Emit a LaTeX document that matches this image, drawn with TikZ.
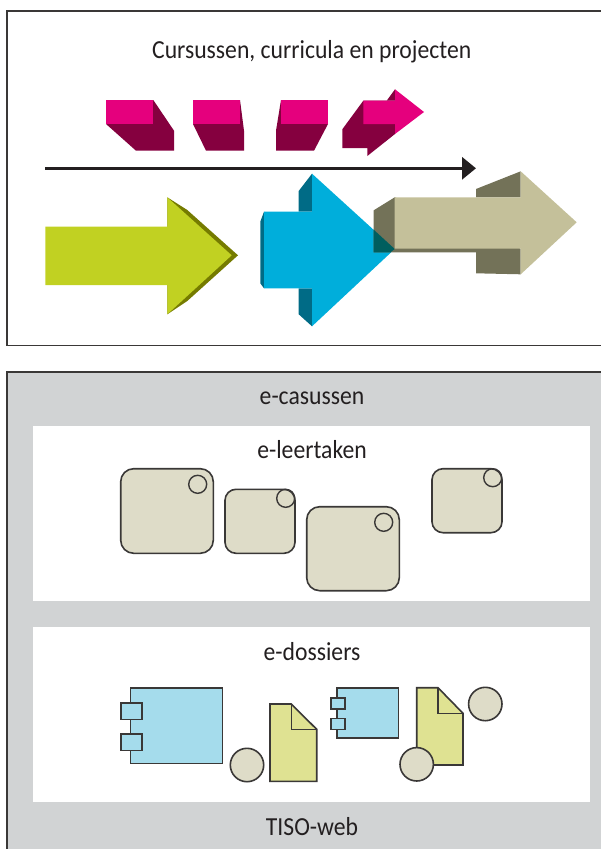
\documentclass[tikz,border=0pt]{standalone}
\usepackage{fontspec}
\setmainfont[FakeStretch=0.91]{Carlito}
\usetikzlibrary{arrows.meta}
\definecolor{pinkfront}{HTML}{E5007D}
\definecolor{pinkside}{HTML}{85003F}
\definecolor{limefront}{HTML}{C1D122}
\definecolor{limeside}{HTML}{757B00}
\definecolor{bluefront}{HTML}{00AEDB}
\definecolor{blueside}{HTML}{006B86}
\definecolor{khakifront}{HTML}{C4C09A}
\definecolor{khakiside}{HTML}{737258}
\definecolor{overlap}{HTML}{005E5E}
\definecolor{panelgray}{HTML}{D1D3D4}
\definecolor{stone}{HTML}{DEDCC8}
\definecolor{compblue}{HTML}{A5DCEC}
\definecolor{docyellow}{HTML}{DFE292}
\definecolor{inkline}{HTML}{3A3837}
\definecolor{inkblack}{HTML}{231F20}
\tikzset{
  label/.style={inner sep=0pt, anchor=base, text=inkblack, font=\fontsize{26}{26}\selectfont},
  tile/.style={draw=inkline, fill=stone, line width=1.6pt},
  comp/.style={draw=inkline, fill=compblue, line width=1.6pt},
  doc/.style={draw=inkline, fill=docyellow, line width=1.6pt, line join=miter},
  ball/.style={draw=inkline, fill=stone, line width=1.6pt}
}
\begin{document}
\begin{tikzpicture}[x=1pt, y=-1pt]
    \useasboundingbox (0,0) rectangle (601,849);

    % top panel
    \draw[inkline, line width=1.5pt] (601,11) -- (7,11) -- (7,345.5) -- (601,345.5);
    \node[label] (title) at (311.7,58) {Cursussen, curricula en projecten};

    % pink blocks
    \foreach \a/\b/\c/\d/\e/\f in {106/153.3/174/174/136/106, 193/240/244/244/206/193}
             {
               \fill[pinkside] (\b,100) -- (\c,130.7) -- (\d,150.7) -- (\e,150.7) -- (\f,124) -- cycle;
               \fill[pinkfront] (\a,100) rectangle (\b,124);
             }
    \fill[pinkside] (281,100) -- (276,130.7) -- (276,150.7) -- (314,150.7) -- (328,124) -- cycle;
    \fill[pinkfront] (281,100) rectangle (328,124);
    \fill[pinkside] (363.3,100.7) -- (342.3,129.3) -- (342.3,148) -- (367.3,148) -- (367.3,156) -- (395,134) -- (395,100.7) -- cycle;
    \fill[pinkside] (386.7,100.7) -- (395,89.3) -- (395,100.7) -- cycle;
    \fill[pinkfront] (363.3,100.7) -- (395,100.7) -- (395,89.3) -- (424,112) -- (395,134) -- (395,124) -- (363.3,124) -- cycle;

    % time line
    \coordinate (linestart) at (45,168.3);
    \coordinate (lineend) at (476,168.3);
    \draw[-{Triangle[length=14pt, width=22pt]}, inkblack, line width=3.2pt] (linestart) -- (lineend);

    % lime arrow
    \fill[limeside] (167.3,197.3) -- (187.3,210) -- (238,255.3) -- (187.3,301) -- (167.3,314.3) -- cycle;
    \fill[limefront] (45.3,226.7) -- (167.3,226.7) -- (167.3,197.3) -- (231.7,255.3) -- (167.3,314.3) -- (167.3,285) -- (45.3,285) -- cycle;

    % blue arrow
    \fill[blueside] (264,211.7) -- (260.3,221.7) -- (260.3,283.3) -- (264,288.3) -- cycle;
    \fill[blueside] (312,173.7) -- (298.7,191) -- (298.7,211.7) -- (312,211.7) -- cycle;
    \fill[blueside] (312,288.3) -- (298.7,288.3) -- (298.7,314.3) -- (312,326.3) -- cycle;
    \fill[bluefront] (264,211.7) -- (312,211.7) -- (312,173.7) -- (394.7,249) -- (312,326.3) -- (312,288.3) -- (264,288.3) -- cycle;

    % khaki arrow
    \fill[khakiside] (394.7,197.3) -- (373.7,210.3) -- (373.7,252.3) -- (476,252.3) -- (476,273.3) -- (520.7,274.3) -- (520.7,248.7) -- cycle;
    \fill[khakiside] (520.7,171.3) -- (476,189) -- (476,197.3) -- (520.7,197.3) -- cycle;
    \fill[overlap] (373.7,229.7) -- (394.7,249) -- (390.5,252.3) -- (373.7,252.3) -- cycle;
    \fill[khakifront] (394.7,197.3) -- (520.7,197.3) -- (520.7,171.3) -- (576.7,222.3) -- (520.7,274.3) -- (520.7,248.7) -- (394.7,248.7) -- cycle;

    % bottom panel
    \fill[panelgray] (7,372) rectangle (601,849);
    \draw[inkline, line width=1.5pt] (601,372) -- (7,372) -- (7,849);
    \fill[white] (33,426) rectangle (590,601);
    \fill[white] (33,627) rectangle (590,802);
    \node[label] (casussen) at (312,404) {e-casussen};
    \node[label] (leertaken) at (312,458.3) {e-leertaken};
    \node[label] (dossiers) at (312,660) {e-dossiers};
    \node[label] (tisoweb) at (312,835) {TISO-web};

    % tiles with their rings
    \foreach \a/\b/\c/\d/\r/\cx/\cy in {120.7/468.7/213.3/553.3/13/197.7/484.3,
                                        225/489.3/295/553.3/11/285.7/498.3,
                                        306.7/506.7/399.3/590.7/13/383.7/522.3,
                                        432/468.7/502/532.7/11/492.7/477.7}
             {
               \draw[tile, rounded corners=\r pt] (\a,\b) rectangle (\c,\d);
               \draw[inkline, line width=1.4pt] (\cx,\cy) circle (9pt);
             }

    % components
    \draw[comp] (130.3,687.7) rectangle (222.3,763.3);
    \draw[comp] (121,703) rectangle (141.7,719.3);
    \draw[comp] (121,734) rectangle (141.7,750.3);
    \draw[comp] (337,687.7) rectangle (398.3,738);
    \draw[comp] (330.7,697.7) rectangle (344.7,708.7);
    \draw[comp] (330.7,718.3) rectangle (344.7,729.3);

    % documents
    \foreach \a/\b/\c/\d/\fx/\fy in {270/704/316.7/781.3/291.3/729.3,
                                     416.7/687.7/463/765/438/713.3}
             {
               \draw[doc] (\a,\b) -- (\fx,\b) -- (\c,\fy) -- (\c,\d) -- (\a,\d) -- cycle;
               \draw[doc, fill=none] (\fx,\b) -- (\fx,\fy) -- (\c,\fy);
             }

    \foreach \cx/\cy in {247/765, 485.3/704, 416.7/764.3}
             {
               \draw[ball] (\cx,\cy) circle (16.7pt);
             }
\end{tikzpicture}
\end{document}
